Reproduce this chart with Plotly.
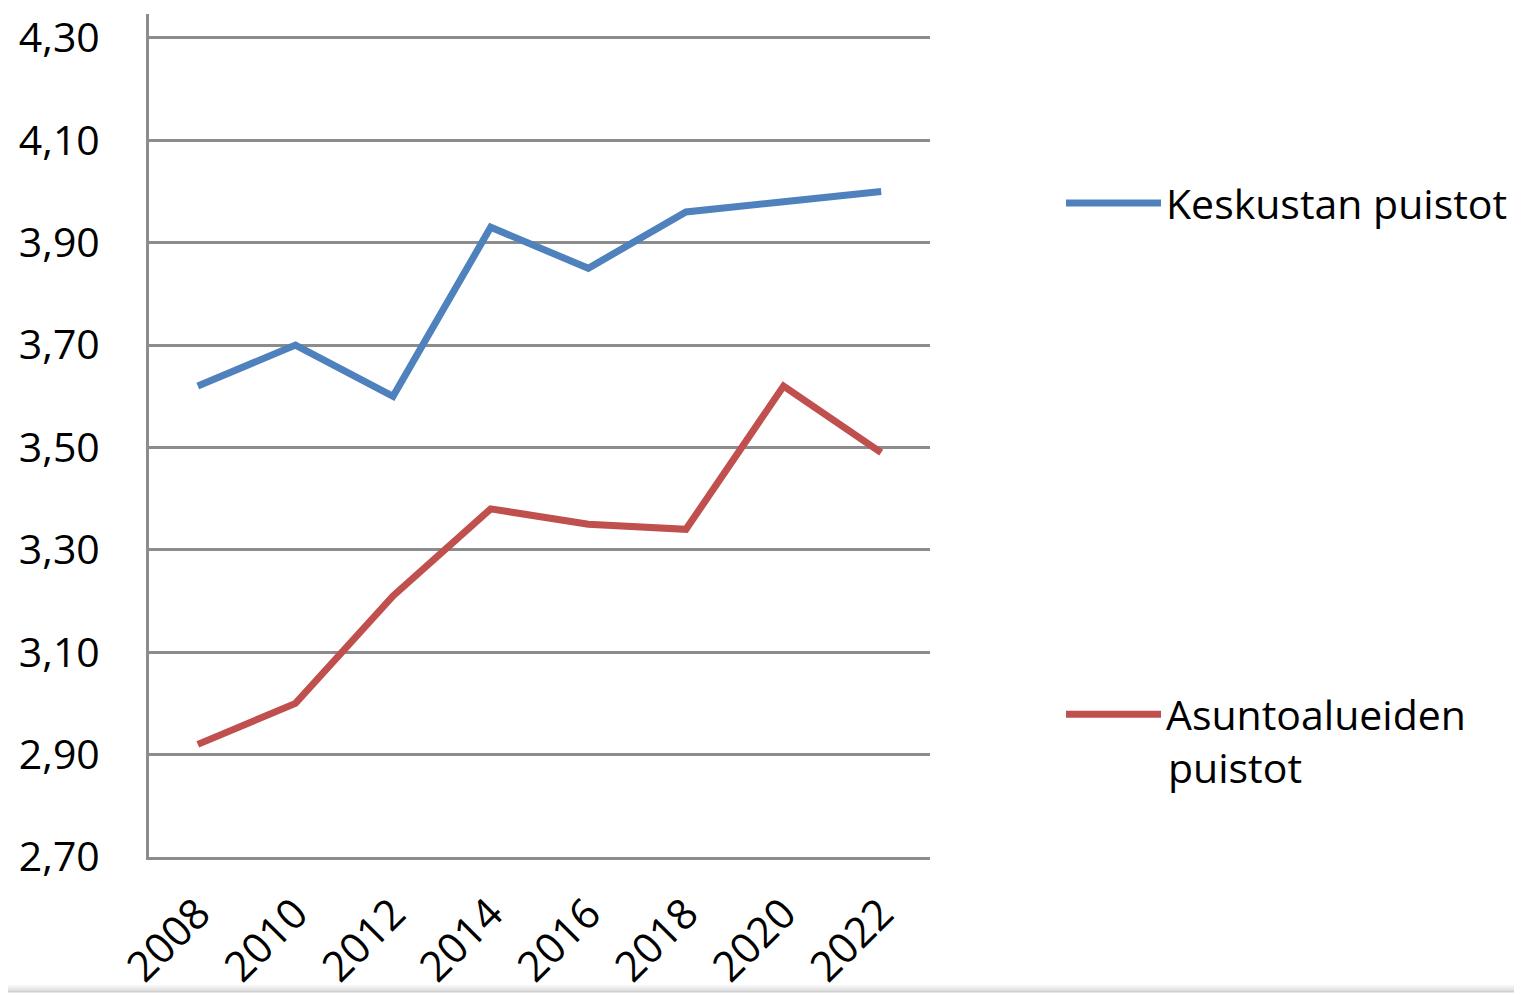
import plotly.graph_objects as go

years = ["2008", "2010", "2012", "2014", "2016", "2018", "2020", "2022"]
keskustan = [3.62, 3.70, 3.60, 3.93, 3.85, 3.96, 3.98, 4.00]
asunto = [2.92, 3.00, 3.21, 3.38, 3.35, 3.34, 3.62, 3.49]
ytick_vals = [2.70, 2.90, 3.10, 3.30, 3.50, 3.70, 3.90, 4.10, 4.30]
ytick_text = ["2,70", "2,90", "3,10", "3,30", "3,50", "3,70", "3,90", "4,10", "4,30"]

FONT = "Open Sans"
W, H = 1522, 995
DX, DY = 6, 10          # page offset of the figure inside the browser window
L, R, T, B = 141, 600, 0, 146
pw, ph = W - L - R, H - T - B

def px(sx):
    return (sx - DX - L) / pw

def py(sy):
    return (H - B - (sy - DY)) / ph

fig = go.Figure()
fig.add_trace(go.Scatter(x=years, y=keskustan, mode="lines", name="Keskustan puistot",
                         line=dict(color="#4F81BD", width=7), legendgroup="a"))
fig.add_trace(go.Scatter(x=years, y=asunto, mode="lines", name="Asuntoalueiden",
                         line=dict(color="#C0504D", width=7), legendgroup="b"))

shapes = []
for i, c in enumerate(["#f5f5f5", "#eeeeee", "#e6e6e6", "#dcdcdc", "#d0d0d0"]):
    shapes.append(dict(type="rect", xref="paper", yref="paper",
                       x0=px(-20), x1=px(W + 20), y0=py(988 + i * 1.5), y1=py(989.5 + i * 1.5),
                       fillcolor=c, line=dict(width=0), layer="below"))

fig.update_layout(
    width=W, height=H,
    margin=dict(l=L, r=R, t=T, b=B),
    paper_bgcolor="white", plot_bgcolor="white",
    font=dict(family=FONT, size=40, color="black"),
    shapes=shapes,
    legend=dict(x=px(1059), y=py(167), xanchor="left", yanchor="top",
                tracegroupgap=455, itemwidth=95,
                font=dict(family=FONT, size=41, color="black"),
                bgcolor="rgba(0,0,0,0)"),
    annotations=[dict(text="puistot", xref="paper", yref="paper",
                      x=px(1164), y=py(768), xanchor="left", yanchor="middle",
                      showarrow=False, font=dict(family=FONT, size=41, color="black"))],
    xaxis=dict(type="category", range=[-0.5, 7.5], tickangle=-45,
               showgrid=False, showline=True, linecolor="#8C8C8C", linewidth=3,
               ticks="", ticklabelstandoff=12, ticklabeloverflow="allow",
               tickfont=dict(family=FONT, size=42)),
    yaxis=dict(range=[2.70, 4.3466], tickvals=ytick_vals, ticktext=ytick_text,
               showgrid=True, gridcolor="#8C8C8C", gridwidth=3,
               showline=True, linecolor="#8C8C8C", linewidth=3,
               zeroline=False, ticks="", ticklabelstandoff=38, ticklabeloverflow="allow",
               tickfont=dict(family=FONT, size=41)),
)
fig.write_html("out.html")
